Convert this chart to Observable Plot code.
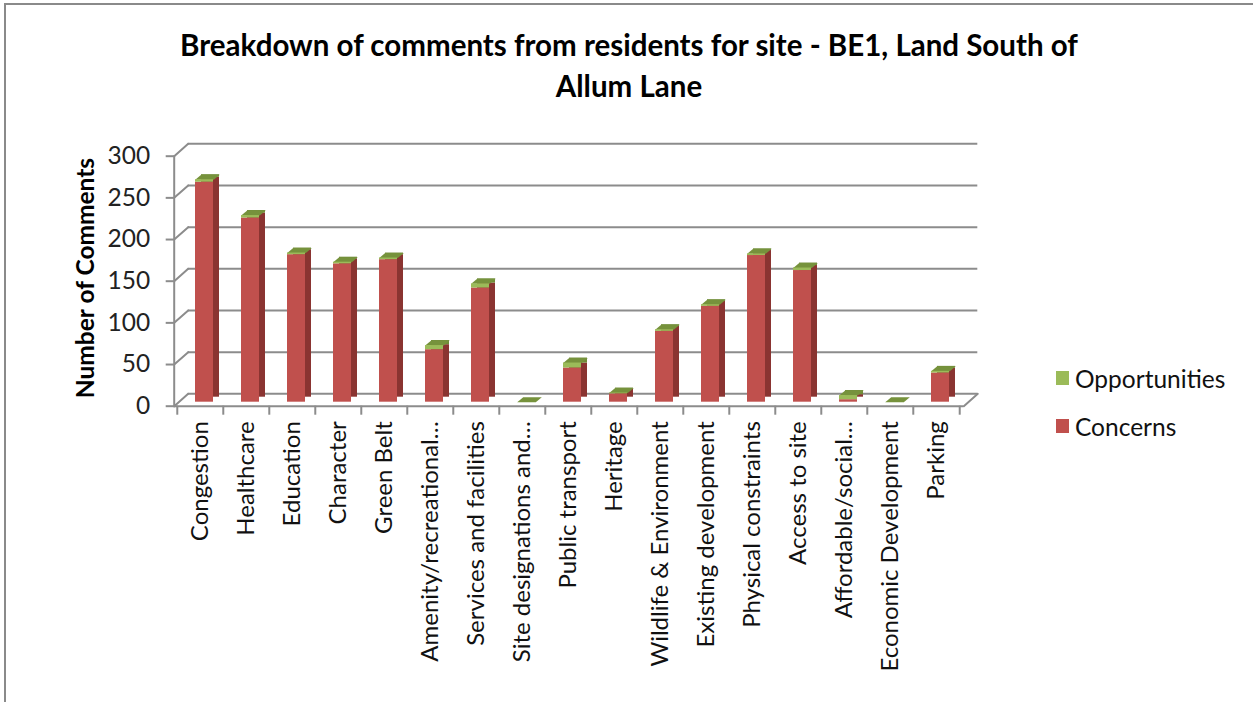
<!DOCTYPE html>
<html><head><meta charset="utf-8">
<script src="https://cdn.jsdelivr.net/npm/d3@7"></script>
<script src="https://cdn.jsdelivr.net/npm/@observablehq/plot@0.6"></script>
<style>
body{margin:0;background:#fff;}
#wrap{position:relative;width:1253px;height:702px;overflow:hidden;font-family:Lato,"Open Sans",sans-serif;color:#000;}
#border{position:absolute;left:4px;top:3px;width:1300px;height:760px;border-top:2px solid #8a8a8a;border-left:2px solid #8a8a8a;}
#title{position:absolute;left:5px;width:1248px;top:24px;text-align:center;font-weight:bold;font-size:29.5px;line-height:41px;}
#ytitle{position:absolute;left:-65px;top:263px;width:300px;height:30px;line-height:30px;text-align:center;font-weight:bold;font-size:24.5px;transform:rotate(-90deg);}
#chart{position:absolute;left:0;top:0;}
.leg{position:absolute;left:1056px;font-size:24.5px;line-height:26px;color:#111;}
.leg span.sw{position:absolute;left:0;top:5px;width:13px;height:14px;}
.leg span.tx{position:absolute;left:19px;top:0;white-space:nowrap;}
</style></head>
<body><div id="wrap"><div id="border"></div><div id="chart"></div><div id="title"></div><div id="ytitle"></div><div id="legend"></div></div>
<script>
const titleLines = ["Breakdown of comments from residents for site - BE1, Land South of", "Allum Lane"];
const yTitle = "Number of Comments";
const categories = ["Congestion","Healthcare","Education","Character","Green Belt","Amenity/recreational…","Services and facilities","Site designations and…","Public transport","Heritage","Wildlife & Environment","Existing development","Physical constraints","Access to site","Affordable/social…","Economic Development","Parking"];
const concerns =      [264, 221, 177, 166, 171, 63, 137, 0, 41, 10, 85, 115, 176, 158, 3, 0, 35];
const opportunities = [3,   3,   2,   2,   2,   5,  5,   0, 6,  1,  2,  2,   2,   3,   5, 0, 2];
const yTicks = [0, 50, 100, 150, 200, 250, 300];
const seriesNames = ["Opportunities", "Concerns"];

const frontColor = {Concerns: "#C0504D", Opportunities: "#9BBB59"};
const sideColor = {Concerns: "#8A3431", Opportunities: "#6F8C37"};
const topColor = "#76923C";
const gridColor = "#8c8c8c";

const rows = categories.flatMap((c, i) => [
  {category: c, series: "Concerns", value: concerns[i]},
  {category: c, series: "Opportunities", value: opportunities[i]}
]);
const totals = categories.map((c, i) => ({category: c, total: concerns[i] + opportunities[i]}));

const W = 1253, H = 702;
const mL = 177.7, mR = 285.7, mT = 151.7, mB = 300.3;
const step = (W - mL - mR) / categories.length;
const hw = step * 0.4 / 2;
const bdx = 6, bdy = -5;       // bar depth
const fdx = -4, fdy = 4;       // front plane offset
const wdx = 14, wdy = -12.4;   // front -> back wall

const topFace = {draw(ctx) { ctx.moveTo(-hw, 0); ctx.lineTo(hw, 0); ctx.lineTo(hw + bdx, bdy); ctx.lineTo(-hw + bdx, bdy); ctx.closePath(); }};
const wallDiag = {draw(ctx) { ctx.moveTo(0, 0); ctx.lineTo(wdx, wdy); }};

const chart = Plot.plot({
  width: W, height: H,
  marginLeft: mL, marginRight: mR, marginTop: mT, marginBottom: mB,
  style: {fontFamily: "Lato, 'Open Sans', sans-serif", background: "transparent", color: "#111"},
  x: {type: "band", domain: categories, paddingInner: 0.6, paddingOuter: 0.3, axis: null},
  y: {domain: [0, 300], axis: null},
  marks: [
    Plot.ruleY(yTicks, {dx: fdx + wdx, dy: fdy + wdy, stroke: gridColor, strokeWidth: 2}),
    Plot.vector(yTicks, {y: d => d, frameAnchor: "left", dx: fdx, dy: fdy, anchor: "start", shape: wallDiag, stroke: gridColor, strokeWidth: 2}),
    Plot.vector([0], {y: d => d, frameAnchor: "right", dx: fdx, dy: fdy, anchor: "start", shape: wallDiag, stroke: gridColor, strokeWidth: 2}),
    Plot.frame({anchor: "left", dx: fdx, dy: fdy, stroke: gridColor, strokeWidth: 2}),
    Plot.ruleY([0], {dx: fdx, dy: fdy, stroke: gridColor, strokeWidth: 2}),
    Plot.barY(rows, Plot.stackY({x: "category", y: "value", z: "series", fill: d => sideColor[d.series], dx: bdx, dy: bdy})),
    Plot.vector(totals, {x: "category", y: "total", anchor: "start", shape: topFace, fill: topColor, stroke: "none"}),
    Plot.barY(rows, Plot.stackY({x: "category", y: "value", z: "series", fill: d => frontColor[d.series]})),
    Plot.axisX({ticks: categories, tickSize: 9, tickFormat: () => "", label: null, dx: fdx - step / 2, dy: fdy, stroke: gridColor, strokeWidth: 2}),
    Plot.axisX({ticks: categories.slice(-1), tickSize: 9, tickFormat: () => "", label: null, dx: fdx + step / 2, dy: fdy, stroke: gridColor, strokeWidth: 2}),
    Plot.axisX({ticks: categories, tickSize: 0, tickPadding: 19, tickRotate: -90, label: null, dx: fdx, fontSize: 24, fill: "#111"}),
    Plot.axisY({ticks: yTicks, tickSize: 8, tickPadding: 16, label: null, dx: fdx, dy: fdy, fontSize: 24.5, stroke: gridColor, strokeWidth: 2, fill: "#222"})
  ]
});
document.getElementById("chart").appendChild(chart);

document.getElementById("title").innerHTML = titleLines.map(t => t.replace(/&/g, "&amp;")).join("<br>");
document.getElementById("ytitle").textContent = yTitle;
const legTop = {Opportunities: 366, Concerns: 414};
const legend = document.getElementById("legend");
for (const s of seriesNames) {
  const d = document.createElement("div");
  d.className = "leg";
  d.style.top = legTop[s] + "px";
  d.innerHTML = `<span class="sw" style="background:${frontColor[s]}"></span><span class="tx">${s}</span>`;
  legend.appendChild(d);
}
</script></body></html>
